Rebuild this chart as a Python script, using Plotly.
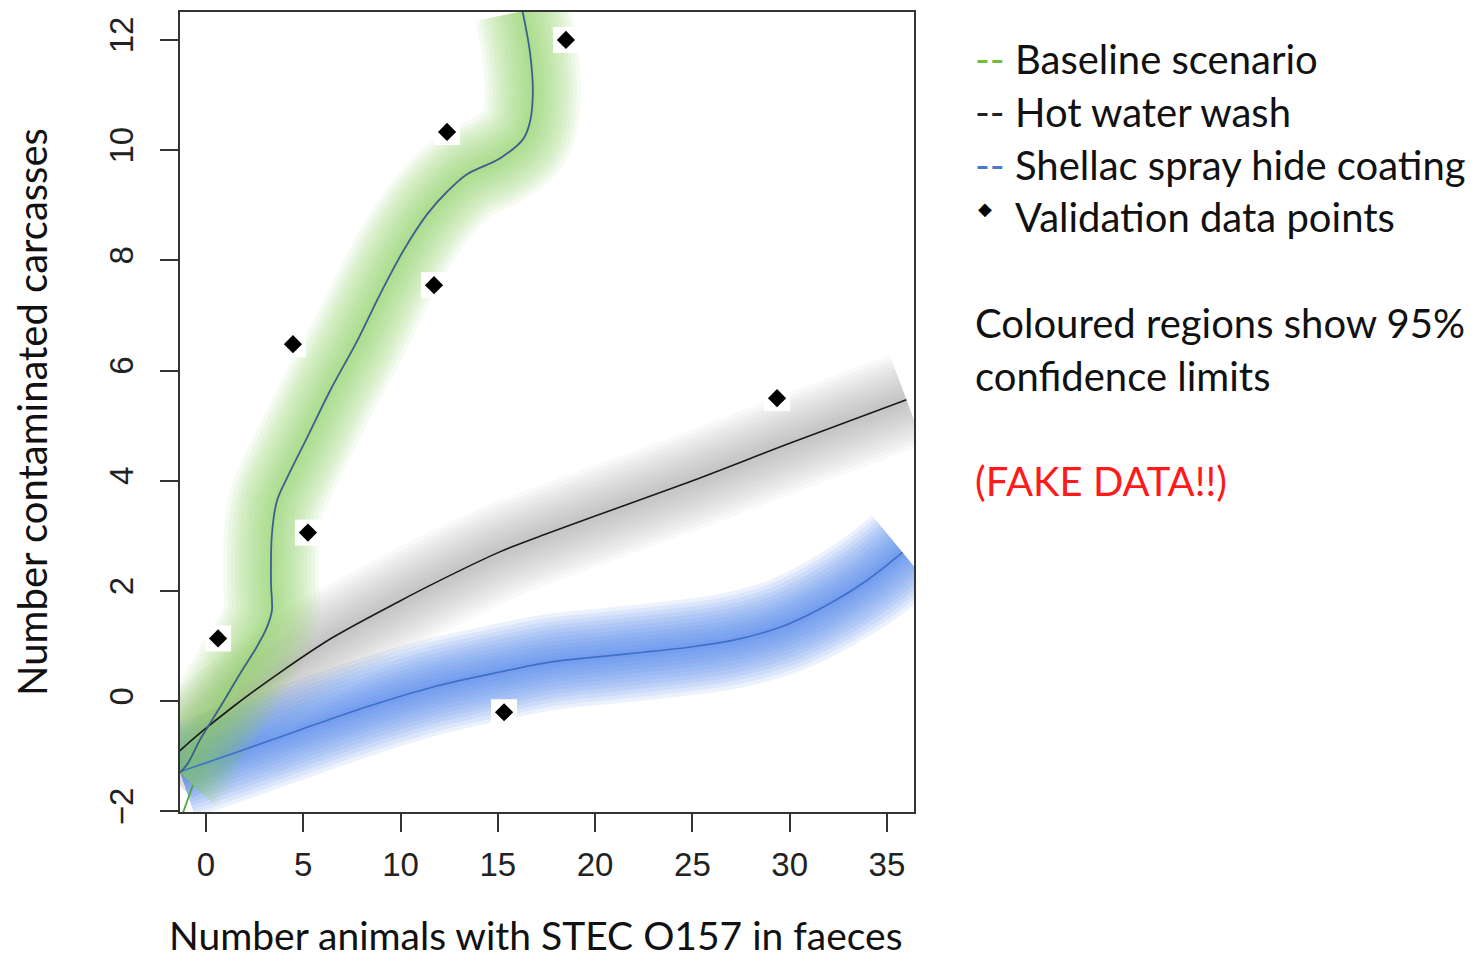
import plotly.graph_objects as go

# ---------------- data ----------------
baseline_x = [-1.34, -0.92, -0.31, 0.72, 1.75, 2.6, 3.13, 3.39, 3.34, 3.39, 3.65, 4.16, 5.19,
              6.37, 7.76, 8.94, 10.12, 11.35, 12.4, 13.4, 15.1, 16.3, 16.65, 16.8, 16.65, 16.27]
baseline_y = [-1.3, -1.12, -0.7, -0.11, 0.5, 0.98, 1.34, 1.65, 2.14, 3.04, 3.64, 4.05, 4.78,
              5.63, 6.53, 7.38, 8.16, 8.83, 9.25, 9.56, 9.85, 10.2, 10.51, 11.06, 11.78, 12.52]
baseline_tail_x = [-0.67, -1.18]
baseline_tail_y = [-1.52, -2.02]

hot_x = [-2.26, -1.5, -0.31, 1.39, 3.96, 6.53, 9.97, 11.67, 15.1, 17.68, 20.0, 25.0, 30.0, 36.0]
hot_y = [-1.21, -0.95, -0.58, -0.1, 0.56, 1.16, 1.82, 2.13, 2.71, 3.06, 3.36, 4.0, 4.68, 5.47]

shellac_x = [-1.34, 1.39, 4.83, 8.27, 11.67, 15.1, 17.68, 20.0, 22.5, 25.0, 27.0, 28.8, 30.0, 32.2, 34.0, 35.8]
shellac_y = [-1.28, -0.95, -0.52, -0.1, 0.26, 0.53, 0.71, 0.8, 0.89, 0.99, 1.1, 1.26, 1.41, 1.8, 2.2, 2.7]

valid_x = [0.62, 4.47, 5.24, 11.72, 12.39, 18.5, 15.32, 29.35]
valid_y = [1.14, 6.48, 3.06, 7.55, 10.33, 12.0, -0.2, 5.5]

x_ticks = [0, 5, 10, 15, 20, 25, 30, 35]
y_ticks = [-2, 0, 2, 4, 6, 8, 10, 12]

legend_items = [("#6fbf3f", "Baseline scenario"),
                ("#222222", "Hot water wash"),
                ("#4a78d8", "Shellac spray hide coating")]

# ---------------- figure ----------------
fig = go.Figure()

glow_widths = [96, 88, 80, 72, 64, 56, 48, 40, 32, 24, 16, 8]


def add_glow(xs, ys, rgb, alpha):
    for w in glow_widths:
        fig.add_trace(go.Scatter(
            x=xs, y=ys, mode="lines",
            line=dict(color=f"rgba({rgb},{alpha})", width=w, shape="spline", smoothing=0.9),
            hoverinfo="skip", showlegend=False))


add_glow(hot_x, hot_y, "140,140,140", 0.055)
add_glow(shellac_x, shellac_y, "70,125,235", 0.10)
add_glow(baseline_x, baseline_y, "140,212,95", 0.085)

# white boxes behind the validation points (as in the reference image)
fig.add_trace(go.Scatter(x=valid_x, y=valid_y, mode="markers",
                         marker=dict(symbol="square", size=26, color="white"),
                         hoverinfo="skip", showlegend=False))

fig.add_trace(go.Scatter(x=hot_x, y=hot_y, mode="lines", name="Hot water wash",
                         line=dict(color="#1a1a1a", width=1.6, shape="spline", smoothing=0.9),
                         showlegend=False))
fig.add_trace(go.Scatter(x=shellac_x, y=shellac_y, mode="lines", name="Shellac spray hide coating",
                         line=dict(color="#3f6fc8", width=1.6, shape="spline", smoothing=0.9),
                         showlegend=False))
fig.add_trace(go.Scatter(x=baseline_x, y=baseline_y, mode="lines", name="Baseline scenario",
                         line=dict(color="#3d5f8e", width=1.8, shape="spline", smoothing=0.9),
                         showlegend=False))
fig.add_trace(go.Scatter(x=baseline_tail_x, y=baseline_tail_y, mode="lines",
                         line=dict(color="#4caa30", width=1.8),
                         hoverinfo="skip", showlegend=False))
fig.add_trace(go.Scatter(x=valid_x, y=valid_y, mode="markers", name="Validation data points",
                         marker=dict(symbol="diamond", size=14, color="black"),
                         showlegend=False))

# page body has an 8px margin; plot box wanted at page x 180..914, y 10..812
OFF = 8
PL, PR, PT, PB = 180, 914, 10, 812
W, H = 1472, 954


def px(xp):
    return (xp - PL) / (PR - PL)


def py(yp):
    return (PB - yp) / (PB - PT)


font_text = "Lato, 'Open Sans', sans-serif"
TXT = 40
ann = []
for i, (col, label) in enumerate(legend_items):
    ann.append(dict(x=px(973), y=py(57 + 53 * i), xref="paper", yref="paper",
                    xanchor="left", yanchor="middle", showarrow=False,
                    text=f"<span style='color:{col}'>--</span> {label}",
                    font=dict(family=font_text, size=TXT, color="#111111")))
ann.append(dict(x=px(985), y=py(207), xref="paper", yref="paper", xanchor="center",
                yanchor="middle", showarrow=False, text="◆",
                font=dict(family="DejaVu Sans", size=18, color="#000000")))
ann.append(dict(x=px(1013), y=py(216), xref="paper", yref="paper", xanchor="left",
                yanchor="middle", showarrow=False, text="Validation data points",
                font=dict(family=font_text, size=TXT, color="#111111")))
ann.append(dict(x=px(973), y=py(322), xref="paper", yref="paper", xanchor="left",
                yanchor="middle", showarrow=False, text="Coloured regions show 95%",
                font=dict(family=font_text, size=TXT, color="#111111")))
ann.append(dict(x=px(973), y=py(375), xref="paper", yref="paper", xanchor="left",
                yanchor="middle", showarrow=False, text="confidence limits",
                font=dict(family=font_text, size=TXT, color="#111111")))
ann.append(dict(x=px(973), y=py(480), xref="paper", yref="paper", xanchor="left",
                yanchor="middle", showarrow=False, text="(FAKE DATA!!)",
                font=dict(family=font_text, size=TXT, color="#ff1a1a")))
# x-axis title (placed slightly left of centre, as in the reference)
ann.append(dict(x=px(536), y=py(935), xref="paper", yref="paper", xanchor="center",
                yanchor="middle", showarrow=False, text="Number animals with STEC O157 in faeces",
                font=dict(family=font_text, size=39, color="#111111")))

axis_common = dict(showgrid=False, zeroline=False, showline=True, mirror=True,
                   linecolor="#333333", linewidth=2, ticks="outside", ticklen=18,
                   tickwidth=2, tickcolor="#333333",
                   tickfont=dict(family="Liberation Sans, Arial, sans-serif", size=33, color="#222222"))

fig.update_layout(
    width=W, height=H,
    margin=dict(l=PL - OFF, r=W - (PR - OFF), t=PT - OFF, b=H - (PB - OFF)),
    plot_bgcolor="white", paper_bgcolor="white",
    xaxis=dict(range=[-1.336, 36.39], tickvals=x_ticks, ticklabelstandoff=4,
               **axis_common),
    yaxis=dict(range=[-2.01, 12.507], tickvals=y_ticks, tickangle=-90, ticklabelstandoff=14,
               title=dict(text="Number contaminated carcasses", standoff=45,
                          font=dict(family=font_text, size=40, color="#111111")),
               **axis_common),
    annotations=ann,
    showlegend=False,
)

fig.write_html("out.html")
